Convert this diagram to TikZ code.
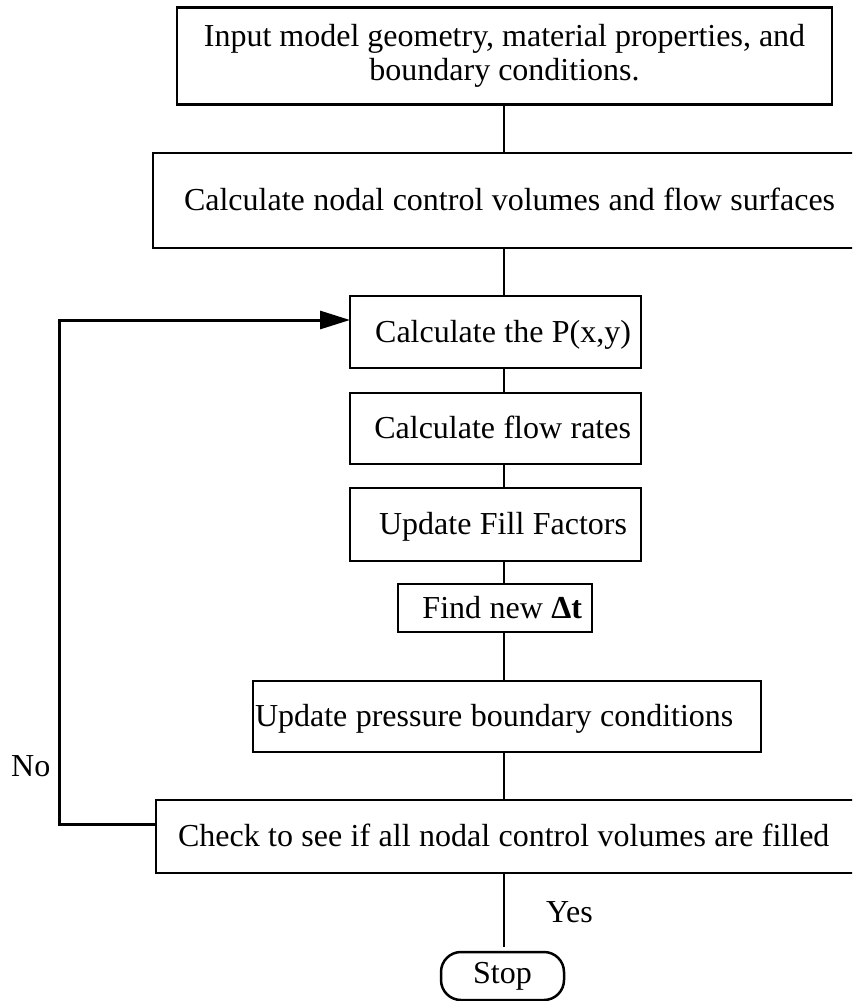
\documentclass[tikz,border=0pt]{standalone}
\usepackage{fontspec}
\setmainfont{Liberation Serif}
\usetikzlibrary{arrows.meta}
\newcommand\tightspaces{\spaceskip=8.4pt\relax}
\begin{document}
\begin{tikzpicture}[x=1pt,y=-1pt,
  box/.style={draw, line width=2.8pt, inner ysep=0pt, outer sep=0pt, font=\fontsize{32}{34}\selectfont},
  oneline/.style={text height=26pt, text depth=6pt, font=\fontsize{32}{34}\selectfont},
  conn/.style={line width=2.2pt},
  loopline/.style={line width=3pt, -{Triangle[length=30pt,width=18pt]}},
  lbl/.style={font=\fontsize{32}{34}\selectfont, inner sep=0pt, anchor=base west}]
\useasboundingbox (0,0) rectangle (852,1001);
\begin{scope}
\clip (0,0) rectangle (852,1001);
\coordinate (sp) at (504,0);
\node[box, align=center, inner xsep=0pt, minimum width=655pt, minimum height=97pt] (b1) at (504.5,56)
  {Input model geometry, material properties, and\\boundary conditions.};
\node[box, oneline, align=left, text width=690pt, inner xsep=31pt, minimum height=95pt] (b2) at (529,200.5)
  {\tightspaces Calculate nodal control volumes and flow surfaces};
\node[box, oneline, align=right, text width=271pt, inner xsep=10pt, minimum height=72pt] (b3) at (495.5,332)
  {\tightspaces Calculate the P(x,y)};
\node[box, oneline, align=right, text width=271pt, inner xsep=10pt, minimum height=71pt] (b4) at (495.5,428.5)
  {\tightspaces Calculate flow rates};
\node[box, oneline, align=right, text width=263pt, inner xsep=14pt, minimum height=73pt] (b5) at (495.5,524.5)
  {\tightspaces Update Fill Factors};
\node[box, oneline, align=right, text width=174pt, inner xsep=10pt, minimum height=48pt] (b6) at (495,608)
  {\tightspaces Find new \textbf{Δt}};
\node[box, oneline, align=left, text width=504pt, inner xsep=2pt, minimum height=71pt] (b7) at (507,716.5)
  {\tightspaces Update pressure boundary conditions};
\node[box, oneline, align=left, text width=690pt, inner xsep=22pt, minimum height=73pt] (b8) at (523,836.5)
  {\tightspaces Check to see if all nodal control volumes are filled};
\node[box, line width=2.5pt, rounded corners=20pt, minimum width=123pt, minimum height=48pt, inner xsep=0pt] (stop) at (502.5,976)
  {Stop};
\draw[conn] (b1.south -| sp) -- (b2.north -| sp);
\draw[conn] (b2.south -| sp) -- (b3.north -| sp);
\draw[conn] (b3.south -| sp) -- (b4.north -| sp);
\draw[conn] (b4.south -| sp) -- (b5.north -| sp);
\draw[conn] (b5.south -| sp) -- (b6.north -| sp);
\draw[conn] (b6.south -| sp) -- (b7.north -| sp);
\draw[conn] (b7.south -| sp) -- (b8.north -| sp);
\draw[conn, shorten >=5pt] (b8.south -| sp) -- (stop.north -| sp);
\coordinate (fb1) at (59,824);
\coordinate (fb2) at (59,320);
\draw[loopline] (b8.west |- fb1) -- (fb1) -- (fb2) -- (b3.west |- fb2);
\node[lbl] (no) at (11,776) {No};
\node[lbl] (yes) at (546,922) {Yes};
\end{scope}
\end{tikzpicture}
\end{document}
